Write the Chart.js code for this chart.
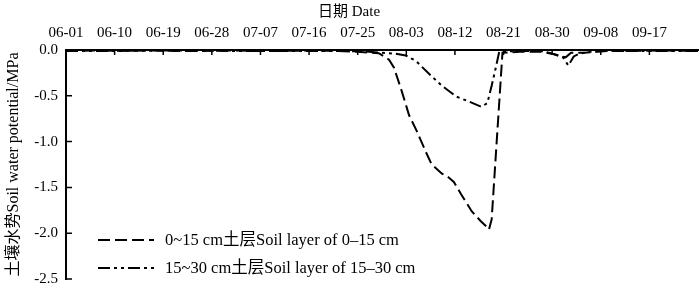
<!DOCTYPE html>
<html>
<head>
<meta charset="utf-8">
<script src="https://cdn.jsdelivr.net/npm/chart.js@4/dist/chart.umd.min.js"></script>
<style>
  html, body { margin: 0; padding: 0; background: #fff; }
  #wrap { width: 700px; height: 296px; position: relative; }
</style>
</head>
<body>
<div id="wrap"><canvas id="c"></canvas></div>
<script>
// dias contados a partir de 06-01
const TICK_LABELS = ['06-01','06-10','06-19','06-28','07-07','07-16','07-25','08-03','08-12','08-21','08-30','09-08','09-17'];
const Y_TICKS = [0, -0.5, -1.0, -1.5, -2.0, -2.5];

const LABEL_1 = '0~15 cm土层Soil layer of 0–15 cm';
const DIAS_1 = [0, 5, 10, 15, 20, 25, 30, 35, 40, 45, 50, 54, 57.9, 59.8, 60.7, 62.0, 63.5, 64.9, 66.6, 67.7, 69.6, 70.8, 71.8, 73.2, 75.1, 76.8, 77.9, 78.3, 78.8, 80.8, 84, 88, 90, 92.5, 93.5, 96, 100, 105, 110, 117];
const VALS_1 = [-0.01, -0.005, -0.01, -0.005, -0.01, -0.01, -0.005, -0.01, -0.01, -0.005, -0.01, -0.02, -0.035, -0.105, -0.19, -0.42, -0.71, -0.88, -1.11, -1.25, -1.35, -1.39, -1.44, -1.58, -1.76, -1.87, -1.93, -1.96, -1.85, -0.03, -0.02, -0.02, -0.04, -0.08, -0.03, -0.03, -0.01, -0.01, -0.005, -0.01];

const LABEL_2 = '15~30 cm土层Soil layer of 15–30 cm';
const DIAS_2 = [0, 10, 20, 30, 40, 50, 55, 58.5, 61, 62.9, 64.8, 67.2, 69.6, 72.3, 74.5, 76.9, 78.0, 78.8, 79.5, 80.2, 84, 88, 90, 92, 93, 94, 95, 97, 100, 108, 117];
const VALS_2 = [-0.01, -0.01, -0.005, -0.01, -0.01, -0.01, -0.015, -0.03, -0.04, -0.06, -0.12, -0.26, -0.39, -0.51, -0.56, -0.62, -0.58, -0.39, -0.21, -0.02, -0.01, -0.01, -0.04, -0.08, -0.17, -0.07, -0.04, -0.02, -0.01, -0.01, -0.01];

const DASH_1 = [12, 5];
const DASH_2 = [12, 4, 3, 4, 3, 4];

Chart.defaults.font.family = '"Liberation Serif", "Noto Sans CJK SC", serif';
Chart.defaults.font.size = 15;
Chart.defaults.color = '#000';

const pontos = (xs, ys) => xs.map((x, i) => ({ x, y: ys[i] }));

// ticks para dentro + legenda dentro do grafico
const extras = {
  id: 'extras',
  afterDraw(chart) {
    const { ctx, chartArea: a, scales: { x, y } } = chart;
    ctx.save();
    ctx.strokeStyle = '#000';
    ctx.lineWidth = 1.5;
    ctx.beginPath();
    for (let i = 1; i < TICK_LABELS.length; i++) {
      const px = x.getPixelForValue(i * 9);
      ctx.moveTo(px, a.top); ctx.lineTo(px, a.top + 5);
    }
    Y_TICKS.forEach(v => {
      const py = y.getPixelForValue(v);
      ctx.moveTo(a.left, py); ctx.lineTo(a.left + 6, py);
    });
    ctx.stroke();

    const itens = [[LABEL_1, DASH_1, 240], [LABEL_2, DASH_2, 268]];
    ctx.lineWidth = 2;
    ctx.font = '16.5px "Liberation Serif", "Noto Sans CJK SC", serif';
    ctx.fillStyle = '#000';
    ctx.textBaseline = 'middle';
    itens.forEach(([txt, dash, py]) => {
      ctx.setLineDash(dash);
      ctx.beginPath();
      ctx.moveTo(98, py); ctx.lineTo(154, py);
      ctx.stroke();
      ctx.setLineDash([]);
      ctx.fillText(txt, 165, py + 1);
    });
    ctx.restore();
  }
};

new Chart(document.getElementById('c'), {
  type: 'line',
  data: {
    datasets: [
      { label: LABEL_1, data: pontos(DIAS_1, VALS_1), borderDash: DASH_1 },
      { label: LABEL_2, data: pontos(DIAS_2, VALS_2), borderDash: DASH_2 }
    ].map(d => Object.assign(d, { borderColor: '#000', borderWidth: 2, pointRadius: 0, tension: 0, fill: false }))
  },
  options: {
    responsive: true, maintainAspectRatio: false, animation: false,
    layout: { padding: { left: 0, right: 2, top: 0, bottom: 9 } },
    plugins: {
      legend: { display: false },
      tooltip: { enabled: false },
      title: { display: true, text: '日期 Date', font: { size: 15, weight: 'normal' }, padding: { top: 3, bottom: 0 } }
    },
    scales: {
      x: {
        type: 'linear', position: 'top', min: 0, max: 117,
        afterFit: s => { s.height = 29; s.paddingLeft = 0; s.paddingRight = 0; },
        grid: { display: true, drawOnChartArea: false, drawTicks: false },
        border: { display: true, color: '#000', width: 2 },
        ticks: {
          stepSize: 9, autoSkip: false, maxRotation: 0, padding: 8,
          callback: v => TICK_LABELS[Math.round(v / 9)] || ''
        }
      },
      y: {
        min: -2.5, max: 0,
        afterFit: s => { s.width = 66; },
        grid: { display: true, drawOnChartArea: false, drawTicks: false },
        border: { display: true, color: '#000', width: 2 },
        ticks: { stepSize: 0.5, padding: 8, callback: v => v.toFixed(1) },
        title: { display: true, text: '土壤水势Soil water potential/MPa', font: { size: 16 }, padding: { top: 4, bottom: 0 } }
      }
    }
  },
  plugins: [extras]
});
</script>
</body>
</html>
